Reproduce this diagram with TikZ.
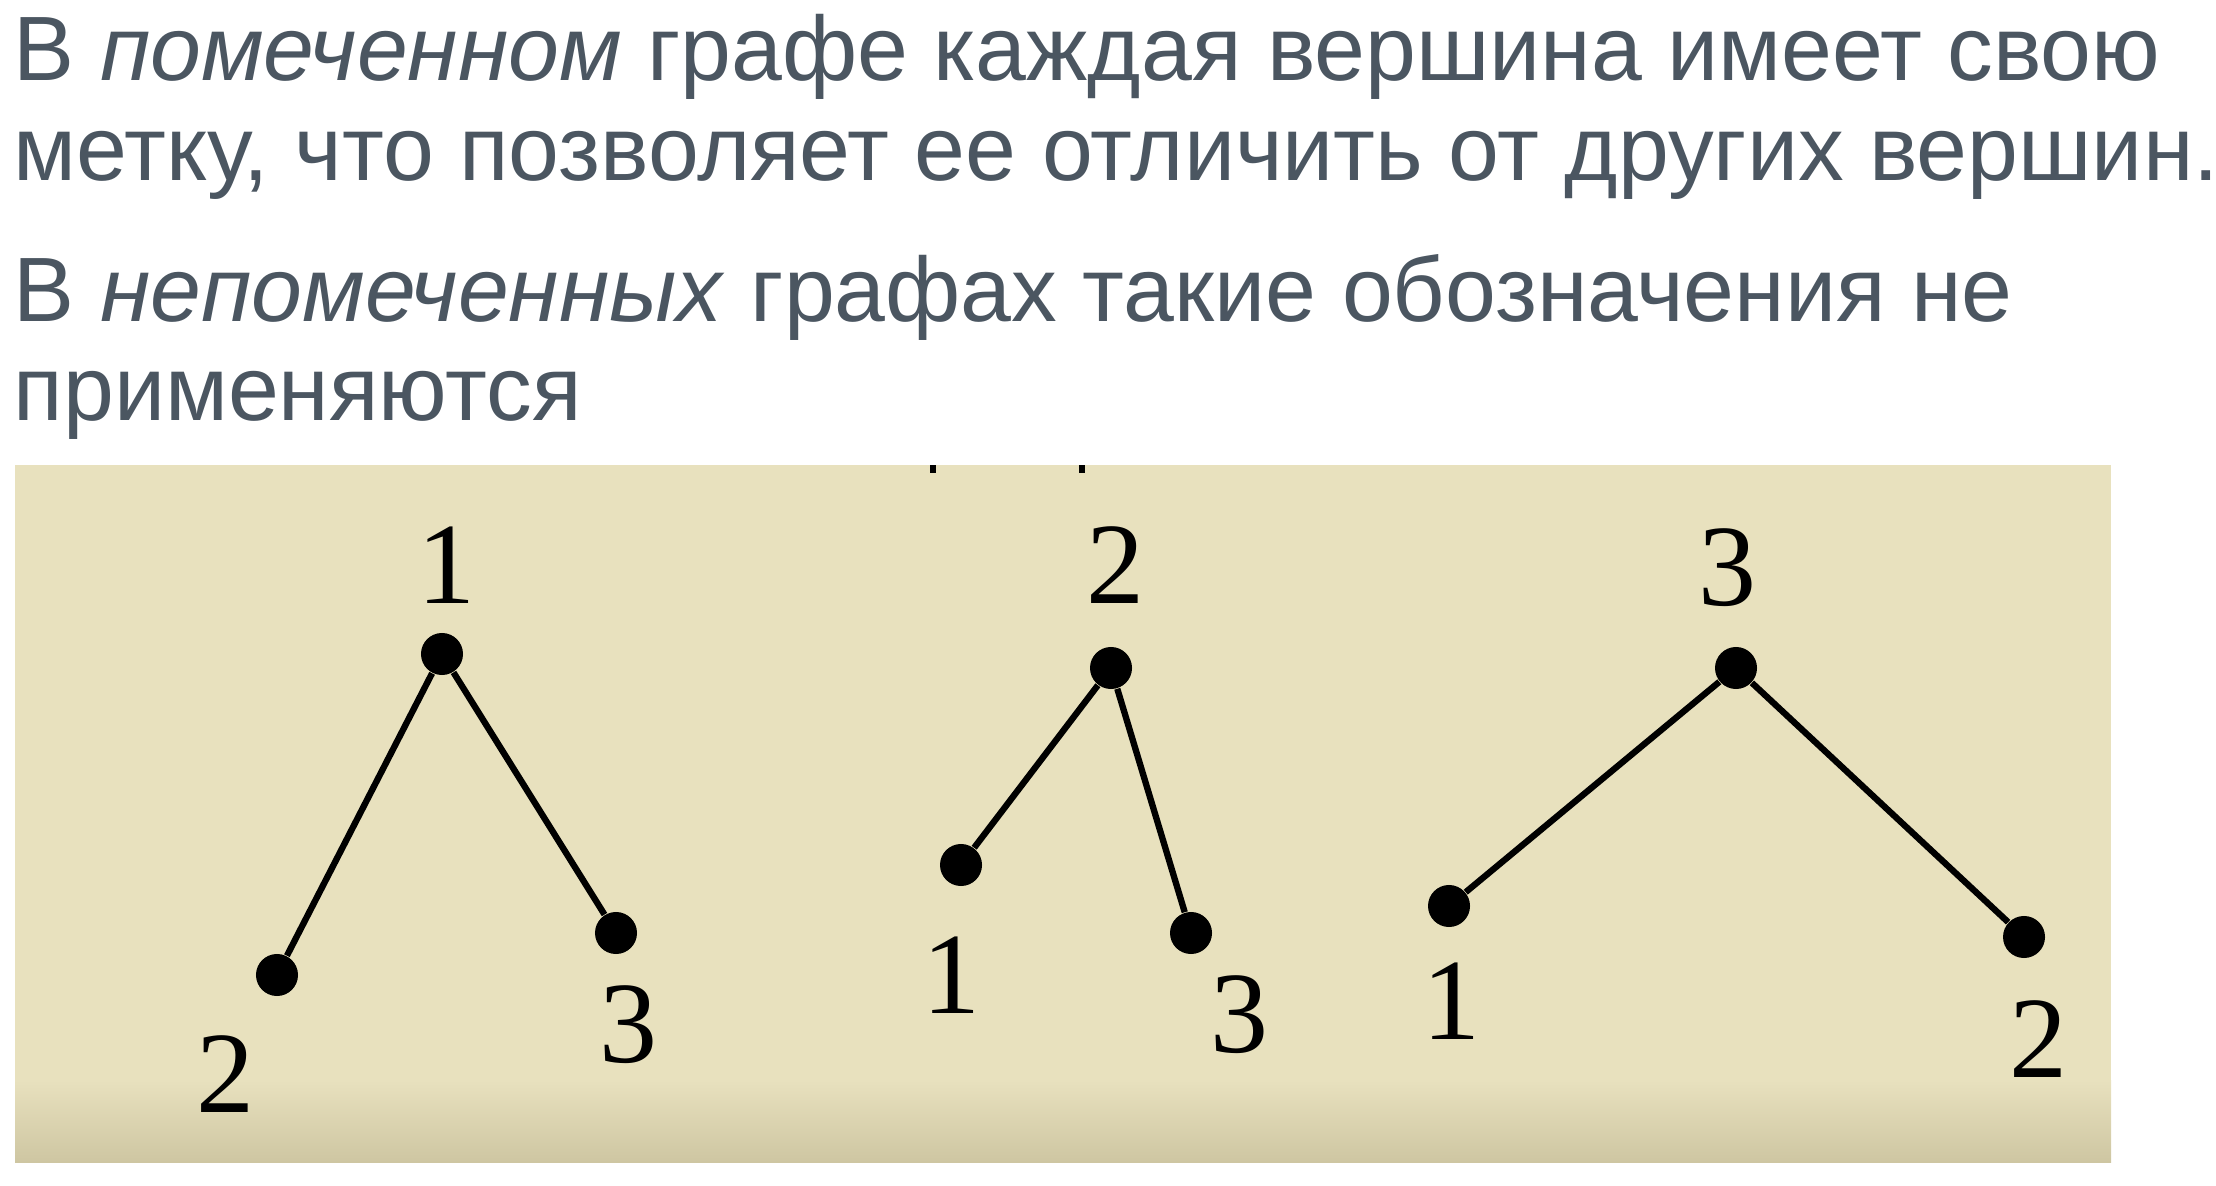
\documentclass[tikz,border=0pt]{standalone}
\usepackage{fontspec}
\newfontfamily\slidefont{Liberation Sans}
\newfontfamily\labelfont{Liberation Serif}
\definecolor{slidetext}{HTML}{4B5661}
\definecolor{panel}{HTML}{E8E1BE}
\definecolor{paneldark}{HTML}{CEC6A2}
\tikzset{
  textline/.style={anchor=base west, inner sep=0pt, text=slidetext,
    font=\slidefont\fontsize{26}{30}\selectfont},
  vertex/.style={circle, fill=black, inner sep=0pt, minimum size=0.42cm},
  num/.style={inner sep=0pt, font=\labelfont\fontsize{33}{36}\selectfont},
  edge/.style={line width=1.8pt},
}

\begin{document}
\begin{tikzpicture}[x=0.01cm, y=-0.01cm]
	\useasboundingbox (0,0) rectangle (2216,1186);
	
	%%%%% text %%%%%
	\node[textline] (line1) at (13,81) {В \textit{помеченном} графе каждая вершина имеет свою};
	\node[textline] (line2) at (13,181) {метку, что позволяет ее отличить от других вершин.};
	\node[textline] (line3) at (13,322) {В \textit{непомеченных} графах такие обозначения не};
	\node[textline] (line4) at (13,421) {применяются};
	
	%%%%% panel %%%%%
	\fill[panel] (15,465) rectangle (2111,1162);
	\shade[top color=panel, bottom color=paneldark] (15,1080) rectangle (2111,1162);
	\fill[black] (930,465) rectangle (936,473);
	\fill[black] (1079,465) rectangle (1085,473);
	
	%%%%% first graph %%%%%
	\node[vertex] (a1) at (442,654) {};
	\node[vertex] (a2) at (277,975) {};
	\node[vertex] (a3) at (616,933) {};
	\draw[edge] (a1) -- (a2);
	\draw[edge] (a1) -- (a3);
	\node[num] (la1) at (447,565) {1};
	\node[num] (la2) at (226,1074) {2};
	\node[num] (la3) at (629,1025) {3};
	
	%%%%% second graph %%%%%
	\node[vertex] (b2) at (1111,668) {};
	\node[vertex] (b1) at (961,865) {};
	\node[vertex] (b3) at (1191,933) {};
	\draw[edge] (b2) -- (b1);
	\draw[edge] (b2) -- (b3);
	\node[num] (lb2) at (1115,565) {2};
	\node[num] (lb1) at (951,975) {1};
	\node[num] (lb3) at (1239,1015) {3};
	
	%%%%% third graph %%%%%
	\node[vertex] (c3) at (1736,668) {};
	\node[vertex] (c1) at (1449,906) {};
	\node[vertex] (c2) at (2024,937) {};
	\draw[edge] (c3) -- (c1);
	\draw[edge] (c3) -- (c2);
	\node[num] (lc3) at (1727,568) {3};
	\node[num] (lc1) at (1451,1001) {1};
	\node[num] (lc2) at (2038,1039) {2};
	
\end{tikzpicture}
\end{document}
